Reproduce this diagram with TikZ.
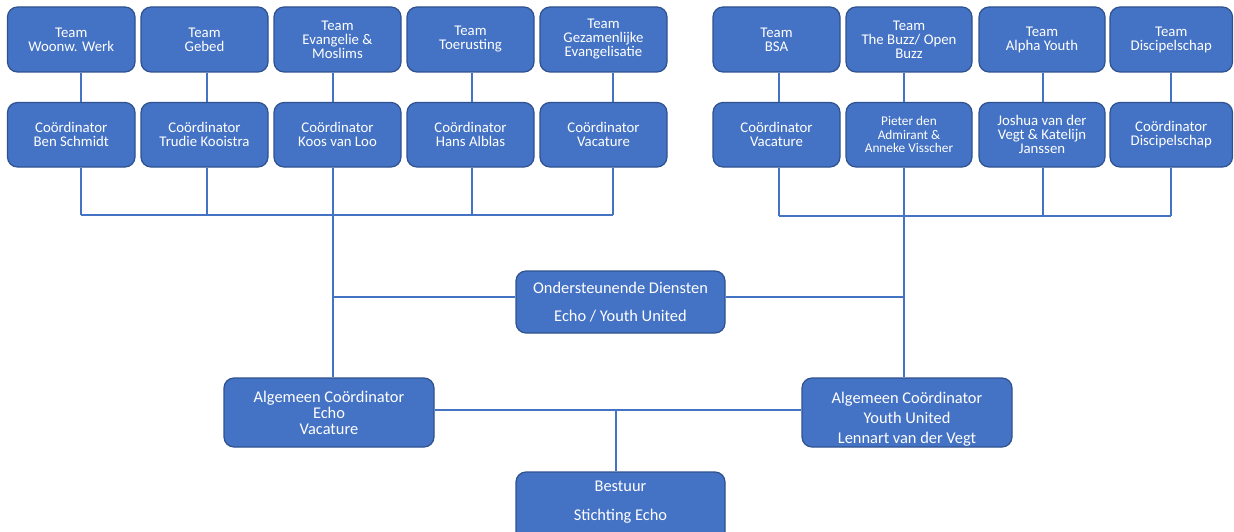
\documentclass[tikz,border=0pt]{standalone}
\usepackage{fontspec}
\setmainfont{Carlito}
\definecolor{boxfill}{HTML}{4472C4}
\definecolor{boxline}{HTML}{2F528F}
\definecolor{conncol}{HTML}{4472C4}
\tikzset{
  orgbox/.style={draw=boxline, line width=1.2pt, fill=boxfill, rounded corners=10pt,
    text=white, align=center, inner sep=0pt},
  txtonly/.style={text=white, align=center, inner sep=0pt},
  smallfont/.style={font=\fontsize{14.8}{14}\selectfont},
  tinyfont/.style={font=\fontsize{13.3}{13.4}\selectfont},
  rowone/.style={minimum height=65pt},
  rowtwo/.style={minimum height=64.5pt},
  link/.style={draw=conncol, line width=2pt},
}
\begin{document}
\begin{tikzpicture}[x=1pt,y=-1pt]
\clip (0,0) rectangle (1234,532);
% row 1 teams
\node[orgbox,smallfont,rowone,minimum width=127.5pt] (t1) at (71.25,39.5) {Team\\Woonw. Werk};
\node[orgbox,smallfont,rowone,minimum width=127pt] (t2) at (204.5,39.5) {Team\\Gebed};
\node[orgbox,smallfont,rowone,minimum width=127pt] (t3) at (337.5,39.5) {Team\\Evangelie \&\\Moslims};
\node[orgbox,smallfont,rowone,minimum width=127pt] (t4) at (470.5,39.5) {Team\\Toerusting};
\node[orgbox,smallfont,rowone,minimum width=127pt] (t5) at (603.5,39.5) {Team\\Gezamenlijke\\Evangelisatie};
\node[orgbox,smallfont,rowone,minimum width=127pt] (t6) at (776.5,39.5) {Team\\BSA};
\node[orgbox,smallfont,rowone,minimum width=126pt] (t7) at (909,39.5) {Team\\The Buzz/ Open\\Buzz};
\node[orgbox,smallfont,rowone,minimum width=126pt] (t8) at (1042,39.5) {Team\\Alpha Youth};
\node[orgbox,smallfont,rowone,minimum width=122.5pt] (t9) at (1171.25,39.5) {Team\\Discipelschap};
% row 2 coordinators
\node[orgbox,smallfont,rowtwo,minimum width=127.5pt] (c1) at (71.25,134.75) {Coördinator\\Ben Schmidt};
\node[orgbox,smallfont,rowtwo,minimum width=127pt] (c2) at (204.5,134.75) {Coördinator\\Trudie Kooistra};
\node[orgbox,smallfont,rowtwo,minimum width=127pt] (c3) at (337.5,134.75) {Coördinator\\Koos van Loo};
\node[orgbox,smallfont,rowtwo,minimum width=127pt] (c4) at (470.5,134.75) {Coördinator\\Hans Alblas};
\node[orgbox,smallfont,rowtwo,minimum width=127pt] (c5) at (603.5,134.75) {Coördinator\\Vacature};
\node[orgbox,smallfont,rowtwo,minimum width=127pt] (c6) at (776.5,134.75) {Coördinator\\Vacature};
\node[orgbox,tinyfont,rowtwo,minimum width=126pt] (c7) at (909,134.75) {Pieter den\\Admirant \&\\Anneke Visscher};
\node[orgbox,smallfont,rowtwo,minimum width=126pt] (c8) at (1042,134.75) {Joshua van der\\Vegt \& Katelijn\\Janssen};
\node[orgbox,smallfont,rowtwo,minimum width=122.5pt] (c9) at (1171.25,134.75) {Coördinator\\Discipelschap};
% lower boxes
\node[orgbox,font=\fontsize{16.4}{28}\selectfont,minimum width=209pt,minimum height=62pt] (ond) at (620.5,302) {Ondersteunende Diensten\\Echo / Youth United};
\node[orgbox,font=\fontsize{16.4}{16}\selectfont,minimum width=210pt,minimum height=69pt] (echo) at (329,412.5) {Algemeen Coördinator\\Echo\\Vacature};
\node[orgbox,minimum width=210pt,minimum height=69pt] (yu) at (907,412.5) {};
\node[txtonly,font=\fontsize{16.4}{20}\selectfont] (yutext) at (907,419) {Algemeen Coördinator\\Youth United\\Lennart van der Vegt};
\node[orgbox,minimum width=209pt,minimum height=74pt] (bestuur) at (620.5,509) {};
\node[txtonly,font=\fontsize{16.4}{29}\selectfont] (bestuurtext) at (620.5,502.5) {Bestuur\\Stichting Echo};
% connector positions
\coordinate (k1) at (81,0);
\coordinate (k2) at (207,0);
\coordinate (k3) at (333,0);
\coordinate (k4) at (472,0);
\coordinate (k5) at (613,0);
\coordinate (k6) at (779,0);
\coordinate (k7) at (904,0);
\coordinate (k8) at (1043,0);
\coordinate (k9) at (1171,0);
\coordinate (bL) at (333,215);
\coordinate (bR) at (904,216);
\coordinate (hy) at (0,297);
\coordinate (ey) at (0,410);
\coordinate (bx) at (616,0);
% team -> coordinator
\foreach \i in {1,...,9} {
  \draw[link] (k\i |- t\i.south) -- (k\i |- c\i.north);
}
% coordinator -> bus
\foreach \i in {1,...,5} {
  \draw[link] (k\i |- c\i.south) -- (k\i |- bL);
}
\foreach \i in {6,...,9} {
  \draw[link] (k\i |- c\i.south) -- (k\i |- bR);
}
\draw[link] (k1 |- bL) -- (k5 |- bL);
\draw[link] (k6 |- bR) -- (k9 |- bR);
% down to general coordinators
\draw[link] (bL) -- (bL |- echo.north);
\draw[link] (bR) -- (bR |- yu.north);
% support services
\draw[link] (bL |- hy) -- (ond.west |- hy);
\draw[link] (ond.east |- hy) -- (bR |- hy);
% general coordinators and board
\draw[link] (echo.east |- ey) -- (yu.west |- ey);
\draw[link] (bx |- ey) -- (bx |- bestuur.north);
\end{tikzpicture}
\end{document}
